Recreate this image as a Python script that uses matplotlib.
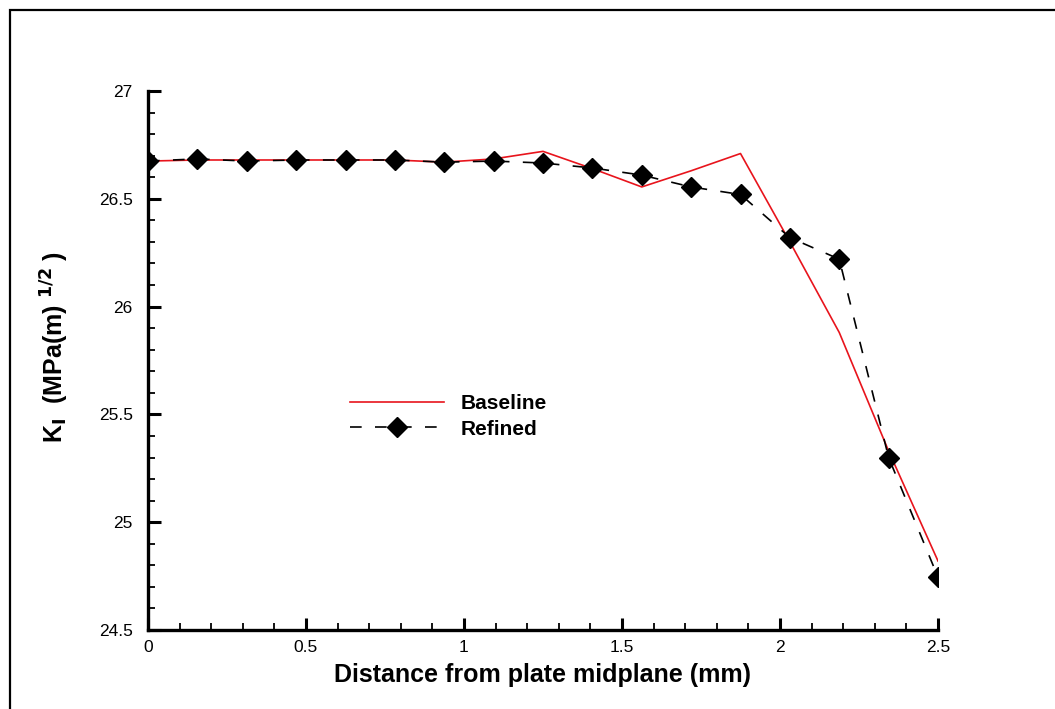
import numpy as np
import matplotlib
matplotlib.use("Agg")
import matplotlib.pyplot as plt
from matplotlib.patches import Rectangle
from matplotlib.ticker import MultipleLocator

# distance from plate midplane (mm), 17 stations
x = [0, 0.15625, 0.3125, 0.46875, 0.625, 0.78125, 0.9375, 1.09375, 1.25,
     1.40625, 1.5625, 1.71875, 1.875, 2.03125, 2.1875, 2.34375, 2.5]
baseline = [26.675, 26.68, 26.68, 26.68, 26.68, 26.68, 26.67, 26.685, 26.72,
            26.64, 26.555, 26.63, 26.71, 26.30, 25.88, 25.33, 24.82]
refined = [26.675, 26.685, 26.675, 26.68, 26.68, 26.68, 26.67, 26.675, 26.666,
           26.643, 26.61, 26.555, 26.52, 26.32, 26.22, 25.30, 24.745]

plt.rcParams['font.family'] = ['Liberation Sans', 'DejaVu Sans']
plt.rcParams['mathtext.default'] = 'bf'

fig = plt.figure(figsize=(10.55, 7.09), dpi=100)
ax = fig.add_axes([148 / 1055, 1 - 630 / 709, 790 / 1055, 539 / 709])

# outer frame, open at right and bottom like the original window
fig.patches.append(Rectangle((10 / 1055, -0.2), 1.5, 0.2 + 1 - 10 / 709,
                             transform=fig.transFigure, fill=False,
                             lw=1.6, ec='black'))

ax.plot(x, baseline, color='#e8141c', lw=1.2, label='Baseline')
ax.plot(x, refined, color='black', lw=1.2, dashes=(7, 8), marker='D',
        markersize=10.5, markerfacecolor='black', markeredgecolor='black',
        label='Refined')

ax.set_xlim(0, 2.5)
ax.set_ylim(24.5, 27)
ax.xaxis.set_major_locator(MultipleLocator(0.5))
ax.xaxis.set_minor_locator(MultipleLocator(0.1))
ax.yaxis.set_major_locator(MultipleLocator(0.5))
ax.yaxis.set_minor_locator(MultipleLocator(0.1))
ax.xaxis.set_major_formatter(plt.FuncFormatter(lambda v, p: f'{v:g}'))
ax.yaxis.set_major_formatter(plt.FuncFormatter(lambda v, p: f'{v:g}'))

for s in ['top', 'right']:
    ax.spines[s].set_visible(False)
for s in ['left', 'bottom']:
    ax.spines[s].set_linewidth(2.4)
    ax.spines[s].set_capstyle('projecting')

ax.tick_params(which='major', direction='in', length=9, width=2.2,
               labelsize=12.5)
ax.tick_params(which='minor', direction='in', length=5, width=1.3)
ax.tick_params(axis='y', which='major', pad=11)
ax.tick_params(axis='x', which='major', pad=7)

ax.set_xlabel('Distance from plate midplane (mm)', fontsize=18,
              fontweight='bold', labelpad=6)
ax.set_ylabel(r'K$_\mathbf{I}$  (MPa(m) $^{\mathbf{1/2}}$ )', fontsize=18,
              fontweight='bold')
ax.yaxis.set_label_coords(-0.097, 0.525)

ax.legend(loc='upper left', bbox_to_anchor=(0.232, 0.472), frameon=False,
          handlelength=4.5, prop={'weight': 'bold', 'size': 15},
          labelspacing=0.3, handletextpad=0.8)

fig.savefig('out.png', dpi=100)
